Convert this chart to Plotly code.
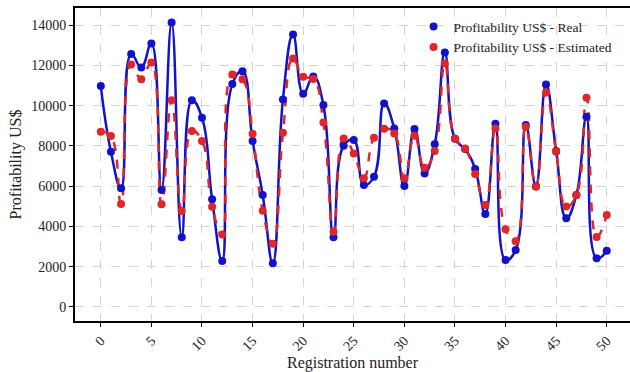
import plotly.graph_objects as go

registration = list(range(51))
real = [10970, 7710, 5890, 12560, 11900, 13090, 5810, 14130, 3460, 10270,
        9400, 5345, 2283, 11070, 11710, 8240, 5560, 2170, 10310, 13530,
        10590, 11450, 10025, 3460, 8006, 8290, 6055, 6467, 10108, 8868,
        6005, 8834, 6633, 8075, 12640, 8350, 7842, 6849, 4616, 9098,
        2333, 2829, 9032, 6000, 11050, 7750, 4400, 5559, 9446, 2416, 2790]
estimated = [8700, 8486, 5112, 12045, 11316, 12144, 5096, 10273, 4764, 8735,
             8245, 4979, 3600, 11549, 11316, 8601, 4780, 3142, 8651, 12343,
             11432, 11320, 9166, 3737, 8372, 7627, 6386, 8406, 8850, 8618,
             6386, 8502, 6915, 7750, 12095, 8372, 7875, 6600, 5062, 8868,
             3855, 3265, 8950, 5972, 10654, 7710, 4990, 5559, 10388, 3475, 4565]

x_ticks = list(range(0, 51, 5))
y_ticks = list(range(0, 14001, 2000))

BLUE = "#1212cc"
RED = "#e02626"
FONT = "Liberation Serif"

fig = go.Figure()
fig.add_trace(go.Scatter(x=registration, y=real, mode="lines",
                         line=dict(color=BLUE, width=2.5, shape="spline", smoothing=1.3),
                         showlegend=False, hoverinfo="skip"))
fig.add_trace(go.Scatter(x=registration, y=estimated, mode="lines",
                         line=dict(color=RED, width=2.5, dash="dash", shape="spline", smoothing=1.3),
                         showlegend=False, hoverinfo="skip"))
fig.add_trace(go.Scatter(x=registration, y=real, mode="markers",
                         marker=dict(color=BLUE, size=8),
                         name="Profitability US$ - Real"))
fig.add_trace(go.Scatter(x=registration, y=estimated, mode="markers",
                         marker=dict(color=RED, size=8),
                         name="Profitability US$ - Estimated"))

fig.update_layout(
    width=630, height=372,
    margin=dict(l=75, r=0, t=8, b=51),
    paper_bgcolor="white", plot_bgcolor="white",
    font=dict(family=FONT, size=14, color="#222"),
    legend=dict(x=0.61, y=0.99, xanchor="left", yanchor="top",
                bgcolor="rgba(255,255,255,0)", font=dict(family=FONT, size=13.5),
                itemwidth=30, tracegroupgap=0),
    xaxis=dict(range=[-2.55, 52.3], tickmode="array", tickvals=x_ticks,
               ticktext=[str(v) for v in x_ticks], tickangle=-45,
               tickfont=dict(family=FONT, size=14),
               showline=True, linecolor="black", linewidth=2, mirror=True,
               ticks="outside", ticklen=4, tickcolor="black",
               showgrid=True, gridcolor="#d4d4d4", griddash="dash", gridwidth=1,
               zeroline=False,
               title=dict(text="Registration number", font=dict(family=FONT, size=16), standoff=0)),
    yaxis=dict(range=[-700, 14850], tickmode="array", tickvals=y_ticks,
               ticktext=[str(v) for v in y_ticks],
               tickfont=dict(family=FONT, size=14),
               showline=True, linecolor="black", linewidth=2,
               ticks="outside", ticklen=4, tickcolor="black",
               showgrid=True, gridcolor="#d4d4d4", griddash="dash", gridwidth=1,
               zeroline=False,
               title=dict(text="Profitability US$", font=dict(family=FONT, size=16), standoff=6)),
)

fig.write_html("out.html")
